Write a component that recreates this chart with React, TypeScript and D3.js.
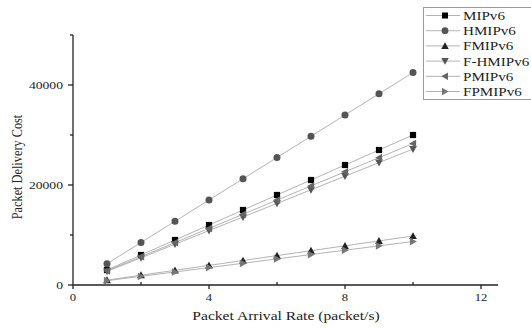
import React, { useRef, useEffect } from 'react';
import * as d3 from 'd3';

const rates = [1, 2, 3, 4, 5, 6, 7, 8, 9, 10];
const mipv6 = [3000, 6000, 9000, 12000, 15000, 18000, 21000, 24000, 27000, 30000];
const hmipv6 = [4250, 8500, 12750, 17000, 21250, 25500, 29750, 34000, 38250, 42500];
const fmipv6 = [980, 1960, 2940, 3920, 4900, 5880, 6860, 7840, 8820, 9800];
const fhmipv6 = [2720, 5440, 8160, 10880, 13600, 16320, 19040, 21760, 24480, 27200];
const pmipv6 = [2830, 5660, 8490, 11320, 14150, 16980, 19810, 22640, 25470, 28300];
const fpmipv6 = [870, 1740, 2610, 3480, 4350, 5220, 6090, 6960, 7830, 8700];

const xTicks = [0, 4, 8, 12];
const xMinor = [2, 6, 10];
const yTicks = [0, 20000, 40000];
const yMinor = [10000, 30000, 50000];

const series = [
  { name: 'MIPv6', values: mipv6, shape: 'square', color: '#000' },
  { name: 'HMIPv6', values: hmipv6, shape: 'circle', color: '#555' },
  { name: 'FMIPv6', values: fmipv6, shape: 'up', color: '#222' },
  { name: 'F-HMIPv6', values: fhmipv6, shape: 'down', color: '#555' },
  { name: 'PMIPv6', values: pmipv6, shape: 'left', color: '#666' },
  { name: 'FPMIPv6', values: fpmipv6, shape: 'right', color: '#777' },
];

const W = 531;
const H = 329;

function markerPath(shape: string, s: number) {
  if (shape === 'square') return `M${-s},${-s}H${s}V${s}H${-s}Z`;
  if (shape === 'circle') return d3.symbol(d3.symbolCircle, Math.PI * s * s * 1.3)() as string;
  const t = s * 1.25;
  if (shape === 'up') return `M0,${-t}L${t},${t * 0.8}L${-t},${t * 0.8}Z`;
  if (shape === 'down') return `M0,${t}L${t},${-t * 0.8}L${-t},${-t * 0.8}Z`;
  if (shape === 'left') return `M${-t},0L${t * 0.8},${-t}L${t * 0.8},${t}Z`;
  return `M${t},0L${-t * 0.8},${-t}L${-t * 0.8},${t}Z`;
}

const App = () => {
  const ref = useRef<SVGSVGElement>(null);

  useEffect(() => {
    const svg = d3.select(ref.current);
    svg.selectAll('*').remove();
    const font = '"Liberation Serif", "Times New Roman", serif';

    const x = d3.scaleLinear().domain([0, 12.5]).range([73, 498]);
    const y = d3.scaleLinear().domain([0, 50000]).range([285, 35]);

    // the picture is a bit wider than tall, so the text gets stretched too
    const label = (px: number, py: number, size: number, str: string, anchor: string, sx = 1.25, rot = 0) => {
      svg.append('text')
        .attr('transform', `translate(${px},${py}) rotate(${rot}) scale(${rot ? 1 : sx},${rot ? sx : 1})`)
        .attr('text-anchor', anchor)
        .attr('font-family', font).attr('font-size', size).attr('fill', '#222')
        .text(str);
    };

    // lines and markers
    const line = d3.line<number>()
      .x((d, i) => x(rates[i]))
      .y(d => y(d));

    series.forEach(s => {
      svg.append('path')
        .attr('d', line(s.values))
        .attr('fill', 'none')
        .attr('stroke', '#aaa')
        .attr('stroke-width', 0.9);
    });
    series.forEach(s => {
      svg.selectAll(null)
        .data(s.values)
        .enter().append('path')
        .attr('transform', (d, i) => `translate(${x(rates[i])},${y(d)})`)
        .attr('d', markerPath(s.shape, 3.1))
        .attr('fill', s.color);
    });

    // axes
    const g = svg.append('g').attr('stroke', '#222').attr('stroke-width', 1.3);
    g.append('line').attr('x1', x(0)).attr('x2', x(12.5)).attr('y1', y(0)).attr('y2', y(0));
    g.append('line').attr('x1', x(0)).attr('x2', x(0)).attr('y1', y(0)).attr('y2', y(50000));
    xTicks.forEach(t => {
      g.append('line').attr('x1', x(t)).attr('x2', x(t)).attr('y1', y(0)).attr('y2', y(0) + 4);
    });
    xMinor.forEach(t => {
      g.append('line').attr('x1', x(t)).attr('x2', x(t)).attr('y1', y(0)).attr('y2', y(0) - 3);
    });
    yTicks.forEach(t => {
      g.append('line').attr('x1', x(0)).attr('x2', x(0) - 5).attr('y1', y(t)).attr('y2', y(t));
    });
    yMinor.forEach(t => {
      g.append('line').attr('x1', x(0)).attr('x2', x(0) - 3).attr('y1', y(t)).attr('y2', y(t));
    });

    xTicks.forEach(t => label(x(t), y(0) + 16, 11, String(t), 'middle', 1.15));
    yTicks.forEach(t => label(x(0) - 10, y(t) + 4, 10.5, String(t), 'end', 1.3));

    label(286, 320, 13, 'Packet Arrival Rate (packet/s)', 'middle', 1.2);
    label(22, 167, 12.3, 'Packet Delivery Cost', 'middle', 1.2, -90);

    // legend
    svg.append('rect')
      .attr('x', 423.5).attr('y', 7.5).attr('width', 120).attr('height', 92)
      .attr('fill', '#fff').attr('stroke', '#999');
    series.forEach((s, i) => {
      const ly = 15.5 + i * 15.2;
      svg.append('line').attr('x1', 426).attr('x2', 460).attr('y1', ly).attr('y2', ly)
        .attr('stroke', '#aaa').attr('stroke-width', 0.9);
      svg.append('path').attr('transform', `translate(445,${ly})`)
        .attr('d', markerPath(s.shape, 3)).attr('fill', s.color);
      label(463, ly + 4.5, 12.6, s.name, 'start', 1.2);
    });
  }, []);

  return (
    <svg ref={ref} width={W} height={H} style={{ position: 'absolute', left: 0, top: 0, background: '#fff' }} />
  );
};

export default App;
